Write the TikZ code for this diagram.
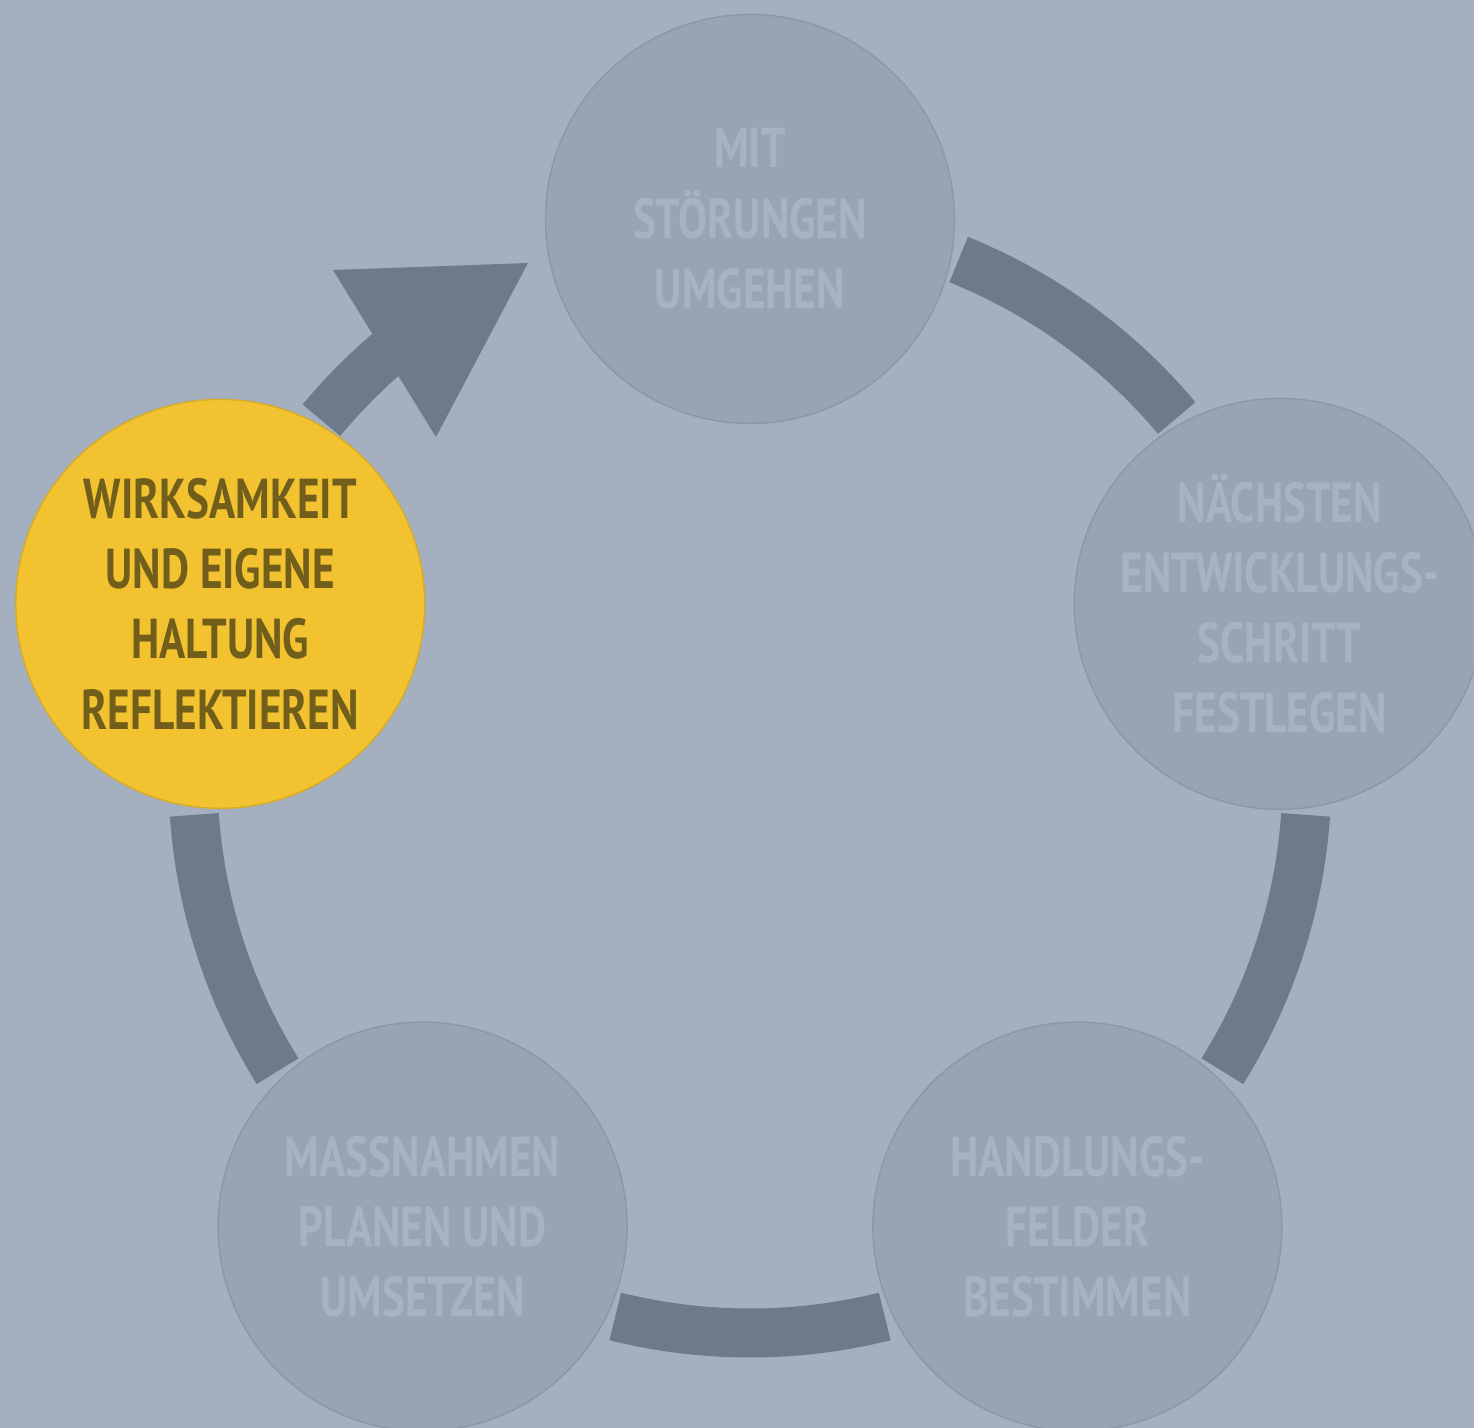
\documentclass[tikz,border=0pt]{standalone}
\usepackage{fontspec}
\setmainfont{PT Sans}[FakeStretch=0.77]

\definecolor{bgcol}{HTML}{A4B0C0}
\definecolor{cycfill}{HTML}{98A4B2}
\definecolor{cycline}{HTML}{8B97A6}
\definecolor{cyctext}{HTML}{A7B3C3}
\definecolor{ringcol}{HTML}{6E7A8C}
\definecolor{hlfill}{HTML}{F2C230}
\definecolor{hltext}{HTML}{705E1A}

\begin{document}
\begin{tikzpicture}
	[every node/.style={circle,draw=cycline,line width=0.4pt,fill=cycfill,
		minimum size=4.09cm,inner sep=0pt,align=center,text=cyctext,
		font=\bfseries\fontsize{16}{20}\selectfont},
	ring/.style={draw=ringcol,line width=0.49cm},
	active/.style={fill=hlfill,draw=hlfill!88!black,text=hltext}]
	\fill[bgcol] (-7.50,-6.52) rectangle (7.24,7.76);
	\clip (-7.50,-6.52) rectangle (7.24,7.76);
	% ring between the steps
	\coordinate (mit-out) at (68:5.57);
	\coordinate (naechst-out) at (-4:5.57);
	\coordinate (handl-out) at (-76:5.57);
	\coordinate (massn-out) at (212:5.57);
	\coordinate (wirk-out) at (140.3:5.57);
	\draw [ring] (mit-out) arc[start angle=68,end angle=40,radius=5.57];
	\draw [ring] (naechst-out) arc[start angle=-4,end angle=-32,radius=5.57];
	\draw [ring] (handl-out) arc[start angle=-76,end angle=-104,radius=5.57];
	\draw [ring] (massn-out) arc[start angle=212,end angle=184,radius=5.57];
	\draw [ring] (wirk-out) arc[start angle=140.3,end angle=129,radius=5.57];
	% arrow head
	\coordinate (head-l) at (-4.17,5.06);
	\coordinate (head-r) at (-3.14,3.39);
	\coordinate (mit-in) at (-2.22,5.13);
	\fill [ringcol] (head-l) -- (mit-in) -- (head-r) -- cycle;
	% steps
	\node (mit) at (90:5.57) {MIT\\STÖRUNGEN\\UMGEHEN};
	\node (naechst) at (18:5.57) {NÄCHSTEN\\ENTWICKLUNGS-\\SCHRITT\\FESTLEGEN};
	\node (handl) at (-54:5.57) {HANDLUNGS-\\FELDER\\BESTIMMEN};
	\node (massn) at (-126:5.57) {MASSNAHMEN\\PLANEN UND\\UMSETZEN};
	\node (wirk) [active] at (162:5.57) {WIRKSAMKEIT\\UND EIGENE\\HALTUNG\\REFLEKTIEREN};
\end{tikzpicture}
\end{document}
